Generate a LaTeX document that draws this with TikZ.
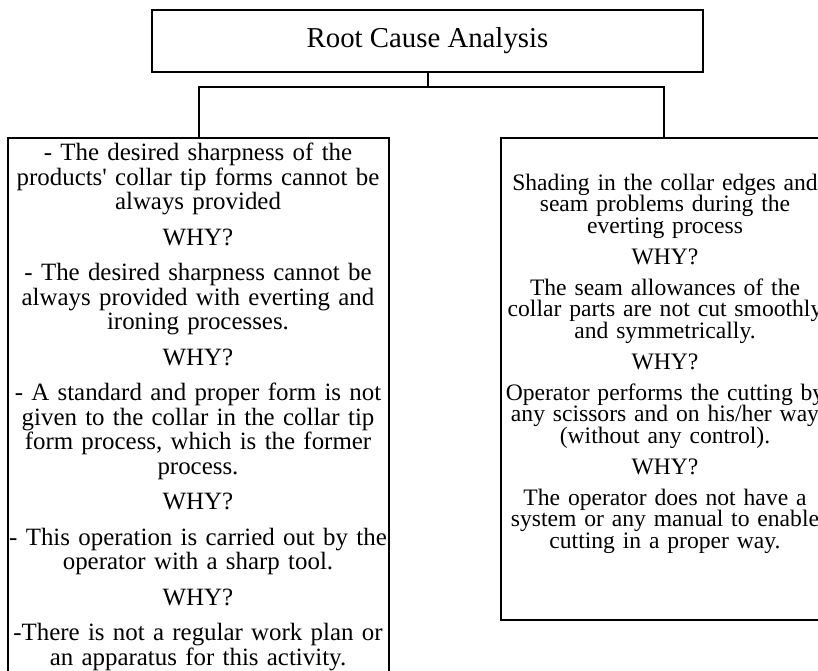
\documentclass[tikz,border=0pt]{standalone}
\usepackage{fontspec}
\setmainfont{Liberation Serif}
% one WHY? step between two reasons
\newcommand{\whystep}[1]{\\[#1]WHY?\\[#1]}
% font with a fixed line pitch
\newcommand{\reasonfont}[2]{\fontsize{#1}{#2}\selectfont\lineskiplimit=-20pt\lineskip=0pt}

\begin{document}
\begin{tikzpicture}[x=0.5pt, y=-0.5pt, line width=1pt,
    frame/.style={draw, inner sep=0pt},
    reasons/.style={inner sep=0pt, align=center, anchor=north}]
  \useasboundingbox (0,0) rectangle (818,670);
  % Title:
  %   heading of the analysis
  \node[frame, minimum width=275.5pt, minimum height=31pt,
        font=\fontsize{14.4}{17}\selectfont] (title) at (427.5,41) {Root Cause Analysis};
  % LeftBox:
  %   why-chain for the collar tip forms
  \node[frame, anchor=north, minimum width=190.5pt, minimum height=269.5pt] (leftBox) at (198.5,137) {};
  \node[reasons, text width=195pt, font=\reasonfont{12.45}{12.25}] (leftWhy) at (198,142) {%
    - The desired sharpness of the\\
    products\textquotesingle{} collar tip forms cannot be\\
    always provided
    \whystep{5.5pt}
    - The desired sharpness cannot be\\
    always provided with everting and\\
    ironing processes.
    \whystep{5.5pt}
    - A standard and proper form is not\\
    given to the collar in the collar tip\\
    form process, which is the former\\
    process.
    \whystep{5.5pt}
    - This operation is carried out by the\\
    operator with a sharp tool.
    \whystep{5.5pt}
    -There is not a regular work plan or\\
    an apparatus for this activity.};
  % RightBox:
  %   why-chain for the shading and seam problems
  \node[frame, anchor=north, minimum width=163pt, minimum height=241pt] (rightBox) at (664,137) {};
  \node[reasons, text width=170pt, font=\reasonfont{11.8}{10.75}] (rightWhy) at (665,173) {%
    Shading in the collar edges and\\
    seam problems during the\\
    everting process
    \whystep{4.75pt}
    The seam allowances of the\\
    collar parts are not cut smoothly\\
    and symmetrically.
    \whystep{4.75pt}
    Operator performs the cutting by\\
    any scissors and on his/her way\\
    (without any control).
    \whystep{4.75pt}
    The operator does not have a\\
    system or any manual to enable\\
    cutting in a proper way.};
  \coordinate (fork) at (427.5,87);
  \draw (title.south) -- (fork) -| (leftBox.north);
  \draw (fork) -| (rightBox.north);
\end{tikzpicture}
\end{document}
